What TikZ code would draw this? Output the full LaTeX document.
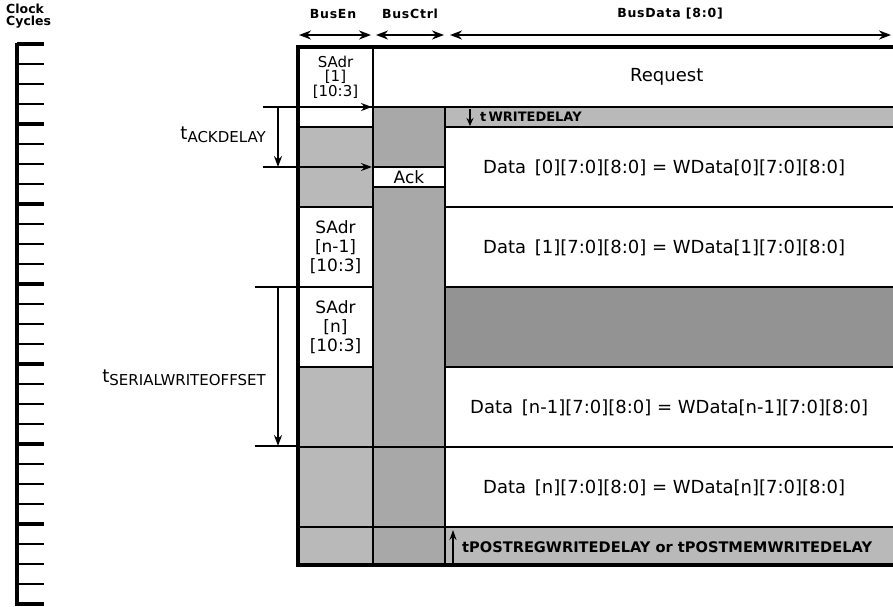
\documentclass[tikz,border=0pt]{standalone}
\usepackage{fontspec}
\setmainfont{DejaVu Sans}
\usetikzlibrary{positioning, arrows.meta}

\newcommand{\tdly}[1]{t\raisebox{-3pt}{\fontsize{15}{15}\selectfont #1}}

\begin{document}
\begin{tikzpicture}[x=1pt, y=-1pt]
    \tikzstyle{cell} = [rectangle, draw=black, line width=2.2pt, anchor=north west, inner sep=0pt, outer sep=0pt, align=center]
    \tikzstyle{wcell} = [cell, fill=white]
    \tikzstyle{gcell} = [cell, fill=gray!55]
    \tikzstyle{ccell} = [cell, fill=gray!68]
    \tikzstyle{dcell} = [cell, fill=gray!85]
    \tikzstyle{txt} = [inner sep=0pt, anchor=west, font=\fontsize{18}{18}\selectfont]
    \tikzstyle{sadr} = [font=\fontsize{17}{19}\selectfont]
    \tikzstyle{hdr} = [inner sep=0pt, font=\fontsize{12.5}{12.5}\selectfont\bfseries\addfontfeature{LetterSpace=6}]
    \tikzstyle{dly} = [inner sep=0pt, anchor=west, font=\fontsize{13}{13}\selectfont\bfseries]
    \tikzstyle{arrow} = [line width=1.6pt, ->, >={Stealth[length=11pt, width=8pt]}]
    \tikzstyle{darrow} = [line width=2pt, <->, >={Stealth[length=12pt, width=9pt]}]
    \tikzstyle{rule} = [line width=2pt]
    \useasboundingbox (0,0) rectangle (893,606);

    % Clock axis
    \node (clk) [anchor=north west, align=left, inner sep=0pt, font=\fontsize{12.5}{12}\selectfont\bfseries] at (6,4) {Clock\\Cycles};
    \coordinate (ax_top) at (17,43);
    \coordinate (ax_bot) at (17,606);
    \draw [line width=3.2pt] (ax_top) -- (ax_bot);
    \foreach \i in {0,...,28} {
        \pgfmathsetmacro{\lw}{mod(\i,4)==0 ? 3.4 : 1.7}
        \draw [line width=\lw pt] (17,{44+20*\i}) -- (44,{44+20*\i});
    }

    % Headers
    \node (h_en) [hdr] at (333,14) {BusEn};
    \node (h_ctrl) [hdr] at (410,14) {BusCtrl};
    \node (h_data) [hdr] at (670,14) {BusData [8:0]};
    \coordinate (en_l) at (299,35);
    \coordinate (en_r) at (371,35);
    \coordinate (ct_l) at (376,35);
    \coordinate (ct_r) at (444,35);
    \coordinate (bd_l) at (450,35);
    \coordinate (bd_r) at (891,35);

    % BusEn column
    \node (en1) [wcell, font=\fontsize{15}{14.5}\selectfont, minimum width=75pt, minimum height=60pt] at (298,47) {SAdr\\{}[1]\\{}[10:3]};
    \node (en1b) [wcell, minimum width=75pt, minimum height=20pt] at (298,107) {};
    \node (en2) [gcell, minimum width=75pt, minimum height=80pt] at (298,127) {};
    \node (en3) [wcell, sadr, minimum width=75pt, minimum height=80pt] at (298,207) {SAdr\\{}[n-1]\\{}[10:3]};
    \node (en4) [wcell, sadr, minimum width=75pt, minimum height=80pt] at (298,287) {SAdr\\{}[n]\\{}[10:3]};
    \node (en5) [gcell, minimum width=75pt, minimum height=80pt] at (298,367) {};
    \node (en6) [gcell, minimum width=75pt, minimum height=80pt] at (298,447) {};
    \node (en7) [gcell, minimum width=75pt, minimum height=38pt] at (298,527) {};

    % BusCtrl column
    \node (req) [wcell, minimum width=560pt, minimum height=60pt] at (373,47) {};
    \node (ct1) [ccell, minimum width=72pt, minimum height=60pt] at (373,107) {};
    \node (ct2) [wcell, sadr, minimum width=72pt, minimum height=20pt] at (373,167) {Ack};
    \node (ct3) [ccell, minimum width=72pt, minimum height=260pt] at (373,187) {};
    \node (ct4) [ccell, minimum width=72pt, minimum height=80pt] at (373,447) {};
    \node (ct5) [ccell, minimum width=72pt, minimum height=38pt] at (373,527) {};

    % BusData column
    \node (wd) [gcell, minimum width=470pt, minimum height=20pt] at (445,107) {};
    \node (d0) [wcell, minimum width=470pt, minimum height=80pt] at (445,127) {};
    \node (d1) [wcell, minimum width=470pt, minimum height=80pt] at (445,207) {};
    \node (dk) [dcell, minimum width=470pt, minimum height=80pt] at (445,287) {};
    \node (dn1) [wcell, minimum width=470pt, minimum height=80pt] at (445,367) {};
    \node (dn) [wcell, minimum width=470pt, minimum height=80pt] at (445,447) {};
    \node (pd) [gcell, minimum width=470pt, minimum height=38pt] at (445,527) {};
    \node (frame) [draw, line width=3.2pt, anchor=north west, inner sep=0pt, outer sep=0pt, minimum width=620pt, minimum height=518pt] at (298,47) {};

    % Texts
    \node (req_t) [txt] at (630,77) {Request};
    \node (d0_t) [txt] at (483,168) {Data \,[0][7:0][8:0] = WData[0][7:0][8:0]};
    \node (d1_t) [txt] at (483,248) {Data \,[1][7:0][8:0] = WData[1][7:0][8:0]};
    \node (dn1_t) [txt] at (470,408) {Data \,[n-1][7:0][8:0] = WData[n-1][7:0][8:0]};
    \node (dn_t) [txt] at (483,488) {Data \,[n][7:0][8:0] = WData[n][7:0][8:0]};
    \node (wd_t) [dly] at (480,117) {t\,WRITEDELAY};
    \node (pd_t) [dly, font=\fontsize{14.6}{14.6}\selectfont\bfseries] at (462,547) {tPOSTREGWRITEDELAY or tPOSTMEMWRITEDELAY};
    \node (ack_t) [anchor=east, inner sep=0pt, font=\fontsize{18}{18}\selectfont] at (266,135) {\tdly{ACKDELAY}};
    \node (ser_t) [anchor=east, inner sep=0pt, font=\fontsize{18}{18}\selectfont] at (266,378) {\tdly{SERIALWRITEOFFSET}};

    % Markers
    \coordinate (ack_a) at (263,107);
    \coordinate (ack_ae) at (372,107);
    \coordinate (ack_b) at (263,167);
    \coordinate (ack_be) at (372,167);
    \coordinate (ack_v1) at (278,107);
    \coordinate (ack_v2) at (278,167);
    \coordinate (ser_a) at (255,287);
    \coordinate (ser_ae) at (298,287);
    \coordinate (ser_b) at (255,446);
    \coordinate (ser_be) at (298,446);
    \coordinate (ser_v1) at (278,287);
    \coordinate (ser_v2) at (278,446);
    \coordinate (wd_a1) at (470,109);
    \coordinate (wd_a2) at (470,126);
    \coordinate (pd_a1) at (453,563);
    \coordinate (pd_a2) at (453,530);

    % Arrows
    \draw [darrow] (en_l) -- (en_r);
    \draw [darrow] (ct_l) -- (ct_r);
    \draw [darrow] (bd_l) -- (bd_r);
    \draw [arrow] (ack_a) -- (ack_ae);
    \draw [arrow] (ack_b) -- (ack_be);
    \draw [arrow] (ack_v1) -- (ack_v2);
    \draw [rule] (ser_a) -- (ser_ae);
    \draw [rule] (ser_b) -- (ser_be);
    \draw [arrow] (ser_v1) -- (ser_v2);
    \draw [arrow, >={Stealth[length=8pt, width=7pt]}] (wd_a1) -- (wd_a2);
    \draw [arrow, >={Stealth[length=10pt, width=7pt]}] (pd_a1) -- (pd_a2);
\end{tikzpicture}
\end{document}
